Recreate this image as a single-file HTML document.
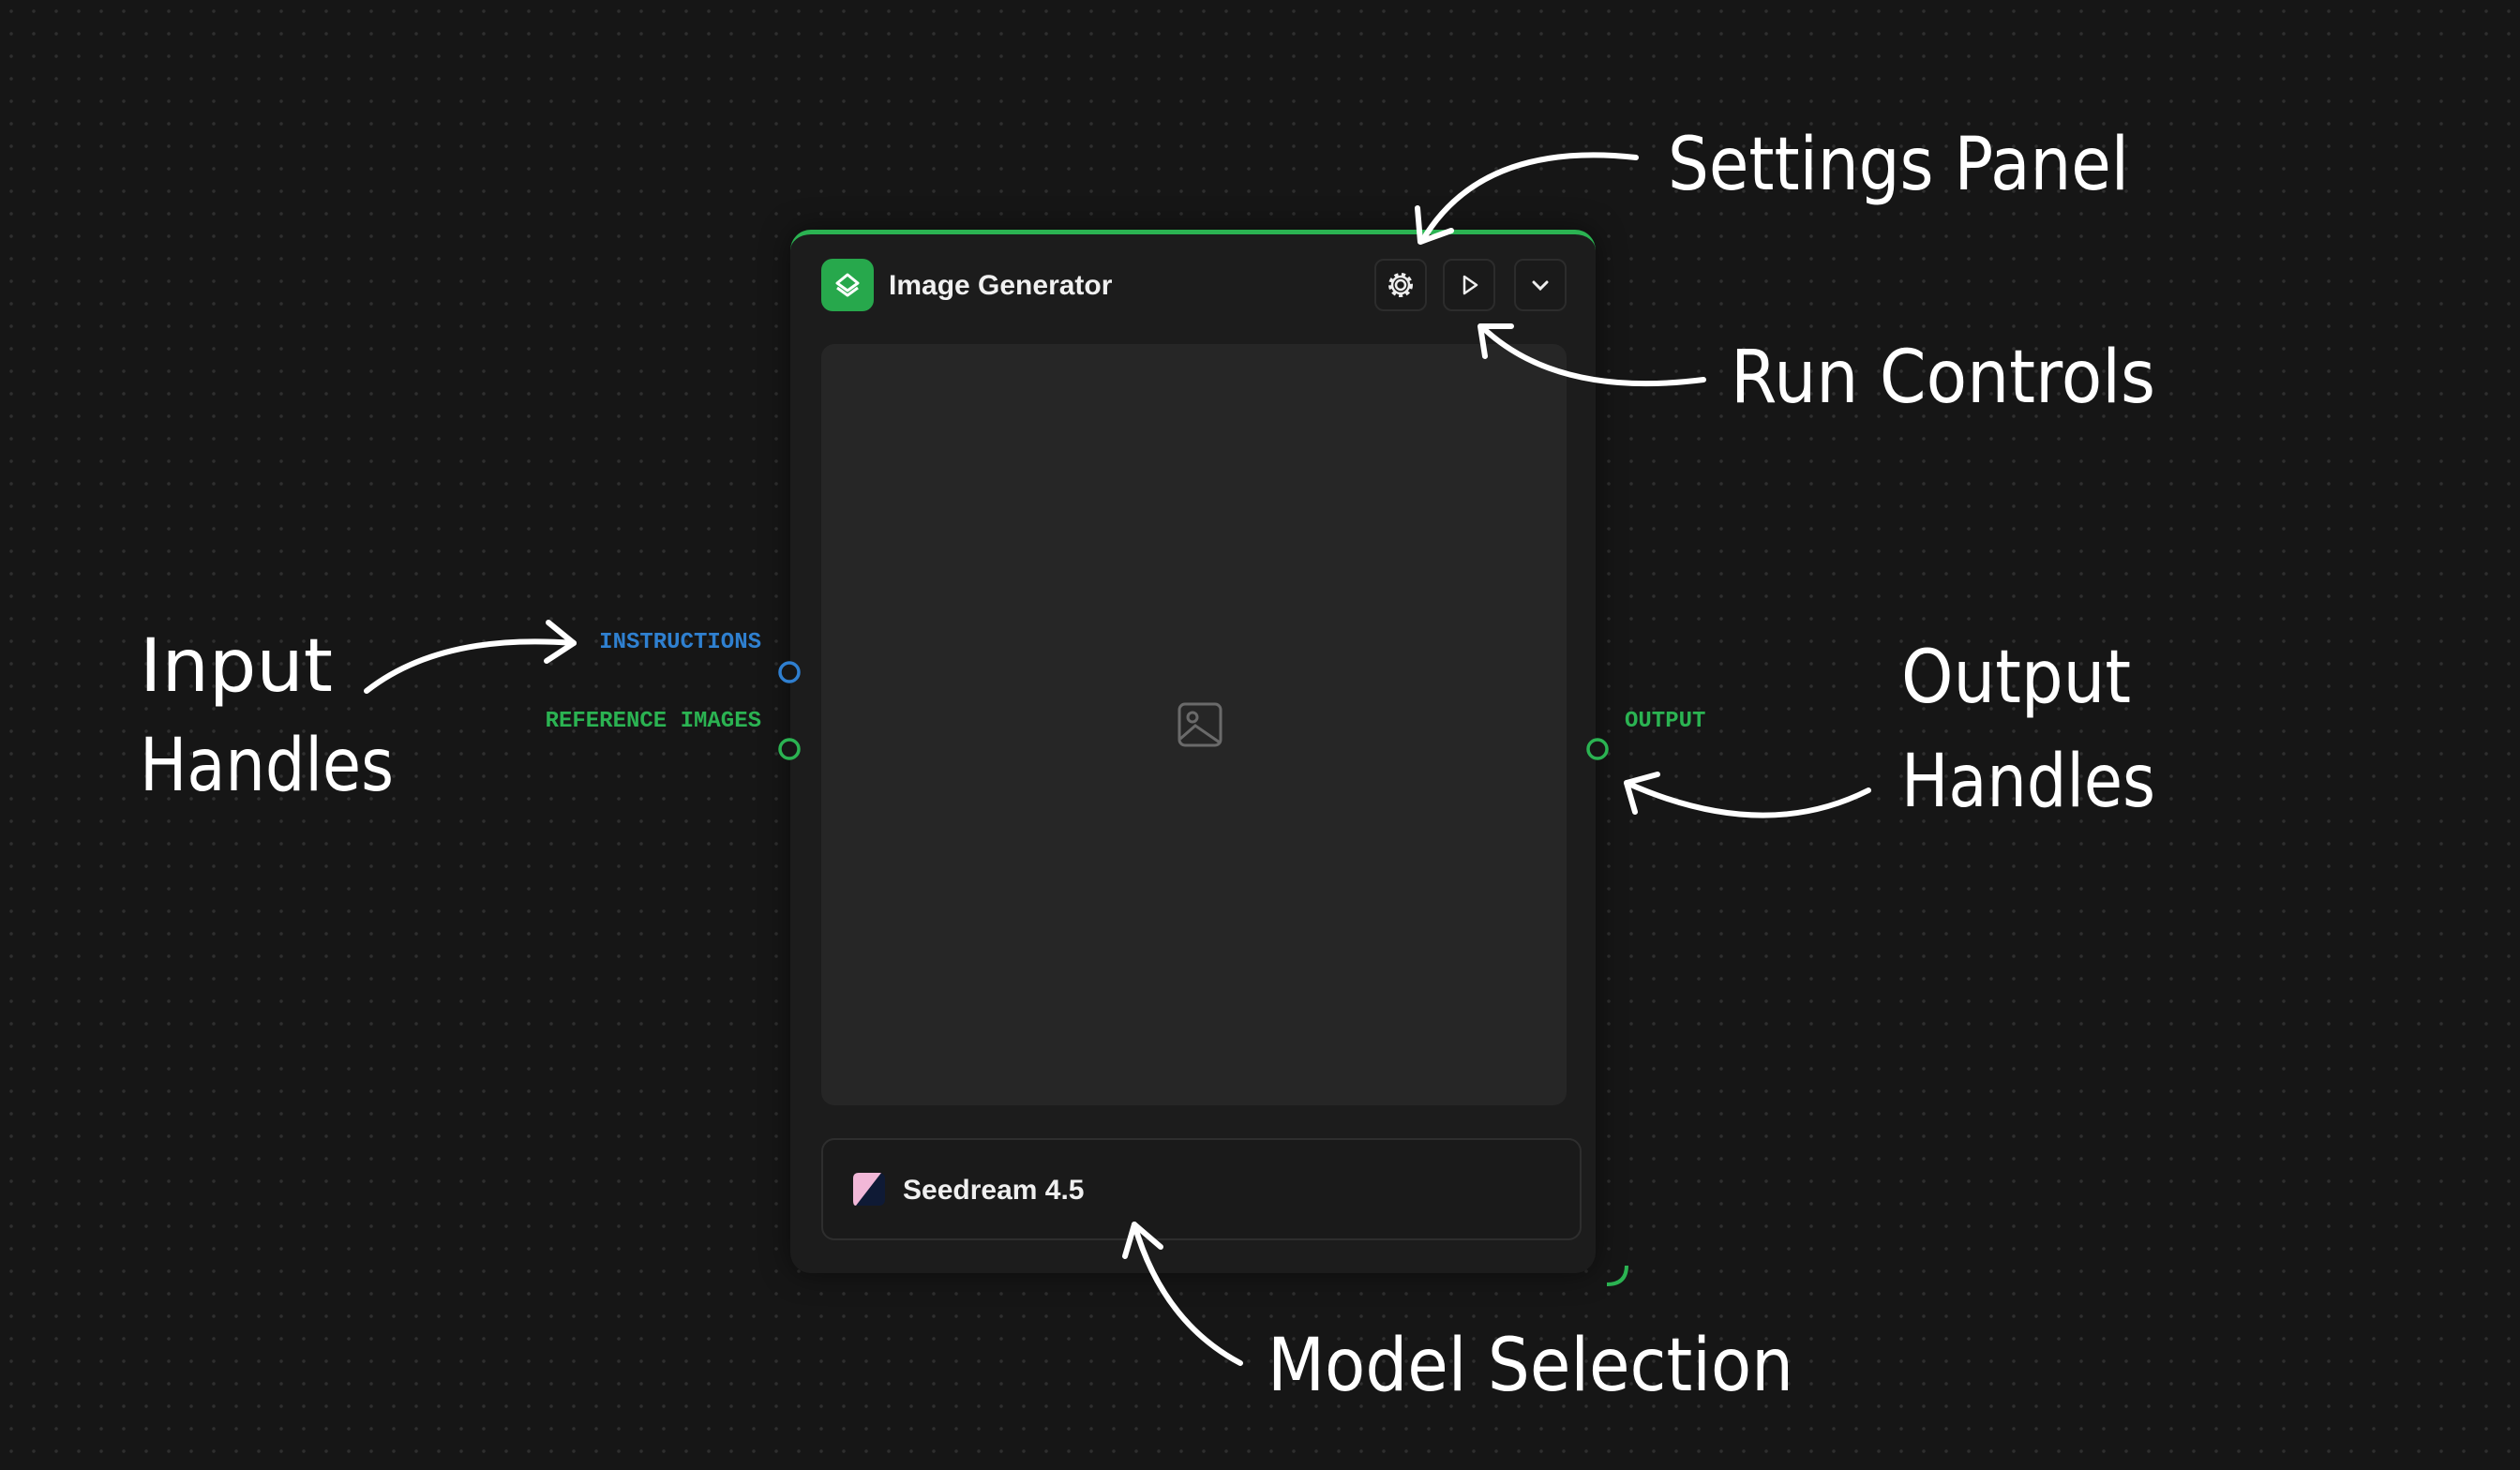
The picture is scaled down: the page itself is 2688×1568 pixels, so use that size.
<!DOCTYPE html>
<html><head><style>
html,body{margin:0;padding:0}
body{width:2688px;height:1568px;overflow:hidden;background:#161616;background-image:radial-gradient(circle,#2e2e2e 1.6px,transparent 2px);background-size:24px 24px;position:relative;font-family:"Liberation Sans",sans-serif}
.abs{position:absolute}
.node{left:843px;top:245px;width:859px;height:1113px;background:#1c1c1c;border-radius:22px;border-top:5px solid #2bb352;box-sizing:border-box;box-shadow:0 0 30px rgba(0,0,0,.5)}
.btn{width:56px;height:56px;border:2px solid #2c2c2c;border-radius:10px;box-sizing:border-box;background:#1a1a1a}
</style></head><body>
<div class="abs node"></div>
<div class="abs" style="left:876px;top:276px;width:56px;height:56px;background:#27a84c;border-radius:12px"></div>
<svg class="abs" style="left:876px;top:276px" width="56" height="56" viewBox="0 0 56 56" fill="none" stroke="#fff" stroke-width="3" stroke-linejoin="round"><path d="M28 17 L39 26 L28 34 L17 26 Z"/><path d="M17 31 L28 39 L39 31"/></svg>
<div class="abs" style="left:948px;top:288px;font-size:30px;color:#f0f0f0;font-weight:bold">Image Generator</div>
<div class="abs btn" style="left:1466px;top:276px"></div>
<div class="abs btn" style="left:1539px;top:276px"></div>
<div class="abs btn" style="left:1615px;top:276px"></div>
<svg class="abs" style="left:1466px;top:276px" width="56" height="56" fill="none" stroke="#eee" stroke-width="2.5"><circle cx="28" cy="28" r="5"/><circle cx="28" cy="28" r="11" stroke-width="4" stroke-dasharray="4 3.5"/><circle cx="28" cy="28" r="9"/></svg>
<svg class="abs" style="left:1539px;top:276px" width="56" height="56" fill="none" stroke="#eee" stroke-width="2.5" stroke-linejoin="round"><path d="M23 19 L36 28 L23 37 Z"/></svg>
<svg class="abs" style="left:1615px;top:276px" width="56" height="56" fill="none" stroke="#eee" stroke-width="3" stroke-linecap="round"><path d="M21 25 L28 32 L35 25"/></svg>
<div class="abs" style="left:876px;top:367px;width:795px;height:812px;background:#262626;border-radius:14px"></div>
<svg class="abs" style="left:1255px;top:748px" width="50" height="50" fill="none" stroke="#6a6a6a" stroke-width="3"><rect x="3" y="3" width="44" height="44" rx="6"/><circle cx="17" cy="17" r="5"/><path d="M4 40 L20 26 L46 44"/></svg>
<div class="abs" style="left:876px;top:1214px;width:811px;height:109px;border:2px solid #2e2e2e;border-radius:14px;box-sizing:border-box;background:#1a1a1a"></div>
<svg class="abs" style="left:910px;top:1251px" width="34" height="35"><rect width="34" height="35" rx="6" fill="#0f1a35"/><path d="M0 6 Q0 0 6 0 L30 0 L3 35 Q0 35 0 30 Z" fill="#f2b8d8"/></svg>
<div class="abs" style="left:963px;top:1253px;font-size:30px;color:#f0f0f0;font-weight:bold">Seedream 4.5</div>
<svg class="abs" style="left:0;top:0" width="2688" height="1568">
<g fill="#161616" stroke-width="3.5"><circle cx="842" cy="717" r="10" stroke="#2f7fd0"/><circle cx="842" cy="799" r="10" stroke="#2bb352"/><circle cx="1704" cy="799" r="10" stroke="#2bb352"/></g>
<path d="M1714 1370 Q1735 1370 1735 1350" fill="none" stroke="#2bb352" stroke-width="4"/>
<text x="812" y="691" text-anchor="end" fill="#2f80d0" font-family="Liberation Mono" font-size="24" font-weight="bold">INSTRUCTIONS</text>
<text x="812" y="775" text-anchor="end" fill="#2bb352" font-family="Liberation Mono" font-size="24" font-weight="bold">REFERENCE IMAGES</text>
<text x="1733" y="775" fill="#2bb352" font-family="Liberation Mono" font-size="24" font-weight="bold">OUTPUT</text>
<g fill="#fff" font-family="DejaVu Sans, Liberation Sans, sans-serif" font-size="78">
<text x="1779" y="202" textLength="492" lengthAdjust="spacingAndGlyphs">Settings Panel</text>
<text x="1846" y="429" textLength="453" lengthAdjust="spacingAndGlyphs">Run Controls</text>
<text x="149" y="737" textLength="206" lengthAdjust="spacingAndGlyphs">Input</text>
<text x="149" y="843" textLength="271" lengthAdjust="spacingAndGlyphs">Handles</text>
<text x="2028" y="749" textLength="245" lengthAdjust="spacingAndGlyphs">Output</text>
<text x="2028" y="860" textLength="271" lengthAdjust="spacingAndGlyphs">Handles</text>
<text x="1352" y="1483" textLength="561" lengthAdjust="spacingAndGlyphs">Model Selection</text>
</g>
<g fill="none" stroke="#fff" stroke-width="6" stroke-linecap="round" stroke-linejoin="round">
<path d="M1745 168 Q1580 150 1517 257"/><path d="M1512 222 L1515 258 L1548 246"/>
<path d="M1817 405 Q1660 425 1580 348"/><path d="M1584 380 L1579 348 L1612 348"/>
<path d="M391 737 Q470 675 612 686"/><path d="M585 664 L612 686 L583 705"/>
<path d="M1993 843 Q1880 900 1735 835"/><path d="M1744 866 L1735 835 L1768 826"/>
<path d="M1323 1454 Q1240 1410 1210 1306"/><path d="M1200 1340 L1210 1306 L1238 1330"/>
</g>
</svg>
</body></html>
